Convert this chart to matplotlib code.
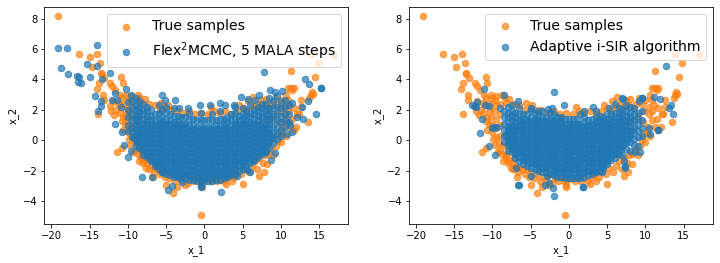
# recreated scatter comparison
import numpy as np
import matplotlib
matplotlib.use("Agg")
import matplotlib.pyplot as plt

# true samples, outer points
true_tail = [(-19.1,8.15),(-16.4,5.7),(-14.0,5.65),(-15.0,5.45),(-13.65,5.1),(-14.7,4.8),(-13.5,4.45),(-13.45,4.38),
    (-13.1,4.1),(-10.9,4.15),(-12.3,3.8),(-13.8,3.8),(-10.65,3.8),(-12.05,3.55),(-14.05,3.35),(-11.65,3.3),(-13.25,3.0),
    (-13.15,2.65),(-13.9,1.7),(-11.1,3.0),(-10.2,3.0),(-10.9,2.75),(-10.0,2.75),(-9.65,2.65),(-11.3,2.45),(-12.4,2.25),
    (-12.2,1.9),(-11.8,1.65),(-11.1,1.8),(-10.65,1.55),(-10.8,1.25),(-10.65,0.7),(-10.0,0.55),(-11.4,-0.8),(-10.8,-0.5),
    (-9.1,-0.2),(-9.0,-0.65),(-8.25,-1.2),(-8.0,-1.5),(-7.6,-1.85),(-6.75,-2.4),(-6.5,-1.75),(-5.0,-2.95),(-3.55,-3.05),
    (-4.15,-3.5),(-2.6,-2.95),(-0.35,-3.05),(-0.35,-2.95),(2.8,-2.9),(3.55,-2.7),(5.0,-2.9),(7.15,-2.35),(7.75,-2.1),(8.2,-1.6),
    (-0.5,-4.9),(17.0,5.6),(14.8,5.1),(13.9,5.7),(11.3,4.55),(14.4,4.15),(10.9,3.45),(11.3,3.45),(11.7,3.45),(11.5,3.3),
    (14.0,3.2),(13.9,3.0),(14.15,3.05),(13.7,2.75),(13.5,1.2),(12.6,2.65),(12.6,2.2),(12.1,1.75),(12.3,1.75),(10.9,2.65),
    (10.65,3.0),(10.0,2.65),(11.7,0.65),(7.4,2.65),(8.0,2.7),(6.3,2.85),(5.65,2.55),(4.55,2.3),(0.9,2.2),(-5.65,2.45),
    (-4.8,2.3),(-8.25,2.45),(-8.7,3.0)]
# true samples, band around the dense middle
true_band = [(-12.0,2.6),(-11.5,2.0),(-11.0,2.3),(-10.5,2.4),(-10.3,2.0),(-10.2,1.5),(-10.4,1.1),(-10.0,1.0),(-9.8,1.9),(-9.6,2.3),
    (-9.6,1.4),(-9.5,0.8),(-9.5,0.2),(-9.9,0.1),(-9.7,-0.3),(-9.3,-0.8),(-9.5,2.9),(-9.0,2.4),(-9.0,1.7),(-9.0,1.0),(-9.0,0.3),
    (-8.7,-0.9),(-8.6,-0.3),(-8.6,-1.4),(-8.2,-1.0),(-8.0,-0.5),(-7.8,-1.3),(-7.5,-1.5),(-7.3,-1.9),(-7.2,-1.2),(-6.9,-1.7),
    (-6.6,-2.1),(-6.2,-1.9),(-5.8,-2.2),(-5.5,-1.9),(-5.2,-2.4),(-5.0,-2.1),(-4.6,-2.5),(-4.2,-2.2),(-3.8,-2.7),(-3.4,-2.4),
    (-3.0,-2.6),(-2.7,-2.3),(-2.2,-2.8),(-1.8,-2.5),(-1.4,-2.7),(-1.0,-2.4),(-0.6,-2.7),(-0.2,-2.6),(0.3,-2.5),(0.8,-2.7),
    (1.2,-2.4),(1.6,-2.7),(2.0,-2.5),(2.5,-2.7),(3.0,-2.4),(3.4,-2.2),(3.9,-2.4),(4.3,-2.0),(4.8,-2.2),(5.3,-1.8),(5.8,-2.1),
    (6.2,-1.7),(6.6,-1.4),(6.9,-1.9),(7.2,-1.2),(7.6,-1.5),(7.9,-1.0),(8.3,-0.9),(8.7,-0.6),(9.0,-1.0),(9.3,-0.4),(9.6,0.0),
    (9.7,0.5),(10.0,-0.1),(10.2,0.4),(10.3,0.9),(10.6,0.3),(10.8,1.3),(10.5,1.7),(10.9,1.9),(11.1,2.3),(10.4,2.2),(11.2,0.9),
    (9.7,1.2),(9.8,1.9),(9.5,2.4),(9.2,2.8),(8.8,2.4),(9.0,1.6),(8.5,2.1),(8.5,1.3),(7.9,2.3),(7.2,2.2),(6.7,2.4),(6.2,2.2),
    (5.5,2.0),(5.0,2.1),(4.2,1.9),(3.5,1.7),(2.7,1.9),(2.0,1.8),(1.3,1.9),(0.5,1.7),(-0.4,1.8),(-1.2,1.7),(-2.0,1.9),(-2.8,1.8),
    (-3.6,2.0),(-4.3,2.0),(-5.0,2.1),(-5.8,2.0),(-6.5,2.3),(-7.2,2.4),(-7.8,2.7),(-8.4,2.8),(12.0,0.9),(11.5,1.4),(11.7,2.1)]

# Flex2MCMC samples, outer points
flex_tail = [(-19.1,6.1),(-17.9,6.1),(-18.7,4.75),(-17.8,4.35),(-16.7,4.2),(-16.35,4.15),(-16.5,3.85),(-16.1,3.75),(-15.4,5.05),
    (-14.9,4.15),(-14.0,6.25),(-14.0,4.9),(-13.35,4.0),(-14.25,2.9),(-13.5,2.6),(-13.85,1.95),(-13.55,2.25),(-12.4,4.4),
    (-11.7,3.1),(-12.05,2.65),(-11.65,1.1),(-11.4,2.65),(-10.9,2.2),(-10.3,3.4),(-9.55,3.0),(-9.95,-1.1),(-9.65,-0.7),
    (-10.5,-0.3),(-10.8,0.55),(-8.15,-2.4),(-6.85,-2.4),(-5.6,3.0),(-5.1,2.65),(-3.8,2.65),(-3.35,2.15),(-2.1,2.15),
    (-0.55,2.35),(0.7,2.35),(2.05,2.45),(2.75,2.3),(4.8,2.85),(3.85,2.3),(5.7,2.7),(6.55,2.65),(7.1,3.0),(7.8,4.5),(8.6,3.3),
    (9.25,3.2),(10.15,3.25),(10.55,2.65),(11.45,2.45),(12.1,1.55),(12.95,1.4),(13.2,4.0),(13.7,3.7),(15.2,3.45),(15.3,3.45),
    (14.55,1.75),(13.5,2.55),(12.75,2.2),(10.8,0.4),(11.45,0.55),(11.2,1.0),(9.2,-0.85),(8.75,-1.3),(7.95,-0.75),(6.0,-2.1),
    (5.55,-1.95),(4.25,-2.35),(2.2,-3.4),(-0.45,-3.0),(-0.45,-3.05),(-4.3,-3.0),(-4.75,-3.25),(-2.9,-2.75),(-5.5,-2.1),(-4.0,-2.2)]
# Flex2MCMC samples, dense middle: one x for each list of y values
flex_col_x = [-10.0,-9.5,-9.0,-8.5,-8.0,-7.5,-7.0,-6.5,-6.0,-5.5,-5.0,-4.5,-4.0,-3.5,-3.0,-2.5,-2.0,-1.5,-1.0,-0.5,0.0,0.5,1.0,1.5,
    2.0,2.5,3.0,3.5,4.0,4.5,5.0,5.5,6.0,6.5,7.0,7.5,8.0,8.5,9.0,9.5,10.0,10.5,11.0]
flex_col_y = [[0.6,1.0,1.5,2.0,2.5],[0.2,0.6,0.9,1.3,1.7,2.1,2.6],[-0.4,0.0,0.4,0.7,1.0,1.3,1.6,2.0,2.3,2.8],
    [-0.5,-0.2,0.1,0.4,0.7,1.0,1.3,1.6,1.9,2.2,2.6],[-1.0,-0.7,-0.4,-0.1,0.2,0.5,0.8,1.1,1.4,1.7,2.0,2.4],
    [-1.1,-0.8,-0.5,-0.2,0.1,0.4,0.7,1.0,1.3,1.6,1.9,2.2],[-1.4,-1.1,-0.8,-0.5,-0.2,0.1,0.4,0.7,1.0,1.3,1.6,2.0],
    [-1.7,-1.4,-1.1,-0.8,-0.5,-0.2,0.1,0.4,0.7,1.0,1.3,1.7],[-1.9,-1.6,-1.3,-1.0,-0.7,-0.4,-0.1,0.2,0.5,0.8,1.1,1.4,1.8,2.3],
    [-2.1,-1.8,-1.5,-1.2,-0.9,-0.6,-0.3,0.0,0.3,0.6,0.9,1.2,1.5,2.0],[-2.2,-1.9,-1.6,-1.3,-1.0,-0.7,-0.4,-0.1,0.2,0.5,0.8,1.1,1.4,1.8,2.2],
    [-2.3,-2.0,-1.7,-1.4,-1.1,-0.8,-0.5,-0.2,0.1,0.4,0.7,1.0,1.3,1.7],[-2.4,-2.1,-1.8,-1.5,-1.2,-0.9,-0.6,-0.3,0.0,0.3,0.6,0.9,1.2,1.6,2.1],
    [-2.4,-2.1,-1.8,-1.5,-1.2,-0.9,-0.6,-0.3,0.0,0.3,0.6,0.9,1.2,1.6],[-2.5,-2.2,-1.9,-1.6,-1.3,-1.0,-0.7,-0.4,-0.1,0.2,0.5,0.8,1.1,1.5],
    [-2.5,-2.2,-1.9,-1.6,-1.3,-1.0,-0.7,-0.4,-0.1,0.2,0.5,0.8,1.1,1.5],[-2.6,-2.3,-2.0,-1.7,-1.4,-1.1,-0.8,-0.5,-0.2,0.1,0.4,0.7,1.0,1.4,1.8],
    [-2.6,-2.3,-2.0,-1.7,-1.4,-1.1,-0.8,-0.5,-0.2,0.1,0.4,0.7,1.0,1.4],[-2.7,-2.4,-2.1,-1.8,-1.5,-1.2,-0.9,-0.6,-0.3,0.0,0.3,0.6,0.9,1.3],
    [-2.7,-2.4,-2.1,-1.8,-1.5,-1.2,-0.9,-0.6,-0.3,0.0,0.3,0.6,0.9,1.3,1.8],[-2.7,-2.4,-2.1,-1.8,-1.5,-1.2,-0.9,-0.6,-0.3,0.0,0.3,0.6,0.9,1.3],
    [-2.7,-2.4,-2.1,-1.8,-1.5,-1.2,-0.9,-0.6,-0.3,0.0,0.3,0.6,0.9,1.3],[-2.7,-2.4,-2.1,-1.8,-1.5,-1.2,-0.9,-0.6,-0.3,0.0,0.3,0.6,0.9,1.3,1.7],
    [-2.6,-2.3,-2.0,-1.7,-1.4,-1.1,-0.8,-0.5,-0.2,0.1,0.4,0.7,1.0,1.3],[-2.6,-2.3,-2.0,-1.7,-1.4,-1.1,-0.8,-0.5,-0.2,0.1,0.4,0.7,1.0,1.4,1.9],
    [-2.5,-2.2,-1.9,-1.6,-1.3,-1.0,-0.7,-0.4,-0.1,0.2,0.5,0.8,1.1,1.4],[-2.4,-2.1,-1.8,-1.5,-1.2,-0.9,-0.6,-0.3,0.0,0.3,0.6,0.9,1.2,1.5],
    [-2.3,-2.0,-1.7,-1.4,-1.1,-0.8,-0.5,-0.2,0.1,0.4,0.7,1.0,1.3,1.7],[-2.2,-1.9,-1.6,-1.3,-1.0,-0.7,-0.4,-0.1,0.2,0.5,0.8,1.1,1.4,1.8,2.2],
    [-2.0,-1.7,-1.4,-1.1,-0.8,-0.5,-0.2,0.1,0.4,0.7,1.0,1.3,1.6],[-1.9,-1.6,-1.3,-1.0,-0.7,-0.4,-0.1,0.2,0.5,0.8,1.1,1.4,1.7,2.1],
    [-1.7,-1.4,-1.1,-0.8,-0.5,-0.2,0.1,0.4,0.7,1.0,1.3,1.6,1.9],[-1.5,-1.2,-0.9,-0.6,-0.3,0.0,0.3,0.6,0.9,1.2,1.5,1.8,2.3],
    [-1.3,-1.0,-0.7,-0.4,-0.1,0.2,0.5,0.8,1.1,1.4,1.7,2.0],[-1.1,-0.8,-0.5,-0.2,0.1,0.4,0.7,1.0,1.3,1.6,1.9,2.2],
    [-0.9,-0.6,-0.3,0.0,0.3,0.6,0.9,1.2,1.5,1.8,2.1,2.4],[-0.8,-0.4,-0.1,0.2,0.5,0.8,1.1,1.4,1.7,2.0,2.4],
    [-0.5,-0.1,0.2,0.5,0.8,1.1,1.4,1.7,2.1,2.8],[-0.2,0.2,0.5,0.9,1.3,1.7,2.1,2.6],[0.1,0.5,0.9,1.3,1.7,2.2,2.9],
    [0.3,0.7,1.2,1.6,2.1,2.5],[0.9,1.3,1.7,2.2],[1.2,1.7,2.3]]
# Flex2MCMC samples, more of the dense middle: one y for each list of x values
flex_row_y = [-2.25,-1.95,-1.65,-1.35,-1.05,-0.75,-0.45,-0.15,0.15,0.45,0.75,1.05]
flex_row_x = [[-3.8,-2.8,-1.7,-0.8,0.3,1.2,2.3,3.2],
    [-5.2,-4.3,-3.2,-2.3,-1.2,-0.2,0.7,1.8,2.8,3.7],
    [-6.2,-5.3,-4.2,-3.3,-2.2,-1.3,-0.2,0.8,1.7,2.7,3.8,4.7],
    [-6.8,-5.7,-4.8,-3.7,-2.8,-1.7,-0.8,0.3,1.2,2.3,3.2,4.3,5.2,6.3],
    [-7.2,-6.3,-5.2,-4.3,-3.2,-2.3,-1.2,-0.3,0.8,1.7,2.8,3.7,4.8,5.7,6.8],
    [-7.8,-6.7,-5.8,-4.7,-3.8,-2.7,-1.8,-0.7,0.2,1.3,2.2,3.3,4.2,5.3,6.2,7.3],
    [-8.2,-7.3,-6.2,-5.3,-4.2,-3.3,-2.2,-1.3,-0.2,0.7,1.8,2.7,3.8,4.7,5.8,6.7,7.8],
    [-8.8,-7.7,-6.8,-5.7,-4.8,-3.7,-2.8,-1.7,-0.8,0.3,1.2,2.3,3.2,4.3,5.2,6.3,7.2,8.3],
    [-9.2,-8.3,-7.2,-6.3,-5.2,-4.3,-3.2,-2.3,-1.2,-0.3,0.8,1.7,2.8,3.7,4.8,5.7,6.8,7.7,8.8],
    [-8.8,-7.7,-6.8,-5.7,-4.8,-3.7,-2.8,-1.7,-0.8,0.3,1.2,2.3,3.2,4.3,5.2,6.3,7.2,8.3],
    [-8.2,-7.3,-6.2,-5.3,-4.2,-3.3,-2.2,-1.3,-0.2,0.7,1.8,2.7,3.8,4.7,5.8,6.7,7.8],
    [-7.7,-6.8,-5.7,-4.8,-3.7,-2.8,4.2,5.3,6.2,7.3]]

# adaptive i-SIR samples, outer points
isir_tail = [(-12.3,2.25),(-12.05,2.5),(-12.1,2.2),(-12.7,2.35),(-11.1,3.35),(-11.4,1.4),(-11.6,0.45),(-10.4,-0.4),(-9.7,-1.0),
    (-10.95,2.3),(-10.5,2.25),(-10.1,0.8),(-9.8,0.85),(-9.4,0.9),(-8.5,2.95),(-9.0,2.1),(-6.6,2.6),(-6.55,-2.95),(-6.6,-2.95),
    (-6.9,-1.8),(-5.0,-2.35),(-3.1,-2.95),(-2.9,-2.35),(-2.6,-2.85),(-2.1,-3.15),(-1.9,-3.7),(-5.0,2.15),(-4.1,1.9),(-2.7,2.05),
    (-2.2,2.15),(-1.9,3.15),(-0.6,2.35),(1.9,-3.05),(1.85,-3.05),(2.0,1.9),(3.2,2.2),(3.6,1.9),(5.2,2.15),(6.0,2.4),(6.6,2.1),
    (7.0,2.75),(7.1,2.7),(7.4,2.3),(9.2,2.6),(9.6,2.8),(9.55,2.75),(11.1,2.85),(11.9,2.7),(12.7,4.9),(13.1,2.1),(13.3,2.35),
    (13.6,1.7),(10.5,0.8),(10.6,0.4),(11.7,0.7),(11.6,0.65),(9.3,-0.8),(8.7,-0.8),(7.2,-1.4),(7.3,-1.8),(7.3,-1.7),(4.3,-2.1)]
# adaptive i-SIR samples, dense middle: one x for each list of y values
isir_col_x = [-8.5,-8.0,-7.5,-7.0,-6.5,-6.0,-5.5,-5.0,-4.5,-4.0,-3.5,-3.0,-2.5,-2.0,-1.5,-1.0,-0.5,0.0,0.5,1.0,1.5,2.0,2.5,3.0,3.5,
    4.0,4.5,5.0,5.5,6.0,6.5,7.0,7.5,8.0,8.5,9.0,9.5]
isir_col_y = [[-0.1,0.3,0.7,1.1,1.5,1.9],[-0.7,-0.3,0.0,0.3,0.6,0.9,1.2,1.5,1.8,2.2],[-0.8,-0.5,-0.2,0.1,0.4,0.7,1.0,1.3,1.6,1.9,2.3],
    [-1.2,-0.9,-0.6,-0.3,0.0,0.3,0.6,0.9,1.2,1.5,1.8],[-1.4,-1.1,-0.8,-0.5,-0.2,0.1,0.4,0.7,1.0,1.3,1.7,2.1],
    [-1.6,-1.3,-1.0,-0.7,-0.4,-0.1,0.2,0.5,0.8,1.1,1.4,1.7],[-1.7,-1.4,-1.1,-0.8,-0.5,-0.2,0.1,0.4,0.7,1.0,1.3,1.7],
    [-1.8,-1.5,-1.2,-0.9,-0.6,-0.3,0.0,0.3,0.6,0.9,1.2,1.5,2.0],[-1.9,-1.6,-1.3,-1.0,-0.7,-0.4,-0.1,0.2,0.5,0.8,1.1,1.4,1.8],
    [-2.0,-1.7,-1.4,-1.1,-0.8,-0.5,-0.2,0.1,0.4,0.7,1.0,1.3,1.6],[-2.1,-1.8,-1.5,-1.2,-0.9,-0.6,-0.3,0.0,0.3,0.6,0.9,1.2,1.5,1.9],
    [-2.1,-1.8,-1.5,-1.2,-0.9,-0.6,-0.3,0.0,0.3,0.6,0.9,1.2,1.5],[-2.2,-1.9,-1.6,-1.3,-1.0,-0.7,-0.4,-0.1,0.2,0.5,0.8,1.1,1.4,1.8],
    [-2.3,-2.0,-1.7,-1.4,-1.1,-0.8,-0.5,-0.2,0.1,0.4,0.7,1.0,1.3,1.7],[-2.4,-2.1,-1.8,-1.5,-1.2,-0.9,-0.6,-0.3,0.0,0.3,0.6,0.9,1.2,1.5],
    [-2.4,-2.1,-1.8,-1.5,-1.2,-0.9,-0.6,-0.3,0.0,0.3,0.6,0.9,1.2,1.5],[-2.5,-2.2,-1.9,-1.6,-1.3,-1.0,-0.7,-0.4,-0.1,0.2,0.5,0.8,1.1,1.4],
    [-2.5,-2.2,-1.9,-1.6,-1.3,-1.0,-0.7,-0.4,-0.1,0.2,0.5,0.8,1.1,1.4],[-2.5,-2.2,-1.9,-1.6,-1.3,-1.0,-0.7,-0.4,-0.1,0.2,0.5,0.8,1.1,1.4],
    [-2.5,-2.2,-1.9,-1.6,-1.3,-1.0,-0.7,-0.4,-0.1,0.2,0.5,0.8,1.1,1.4],[-2.5,-2.2,-1.9,-1.6,-1.3,-1.0,-0.7,-0.4,-0.1,0.2,0.5,0.8,1.1,1.7],
    [-2.4,-2.1,-1.8,-1.5,-1.2,-0.9,-0.6,-0.3,0.0,0.3,0.6,0.9,1.2,1.5],[-2.3,-2.0,-1.7,-1.4,-1.1,-0.8,-0.5,-0.2,0.1,0.4,0.7,1.0,1.3],
    [-2.2,-1.9,-1.6,-1.3,-1.0,-0.7,-0.4,-0.1,0.2,0.5,0.8,1.1,1.4],[-2.1,-1.8,-1.5,-1.2,-0.9,-0.6,-0.3,0.0,0.3,0.6,0.9,1.2,1.5],
    [-2.0,-1.7,-1.4,-1.1,-0.8,-0.5,-0.2,0.1,0.4,0.7,1.0,1.3,1.6],[-1.8,-1.5,-1.2,-0.9,-0.6,-0.3,0.0,0.3,0.6,0.9,1.2,1.5],
    [-1.6,-1.3,-1.0,-0.7,-0.4,-0.1,0.2,0.5,0.8,1.1,1.4,1.7],[-1.3,-1.0,-0.7,-0.4,-0.1,0.2,0.5,0.8,1.1,1.4,1.7],
    [-1.2,-0.9,-0.6,-0.3,0.0,0.3,0.6,0.9,1.2,1.5,1.8],[-0.9,-0.6,-0.3,0.0,0.3,0.6,0.9,1.2,1.5,1.8],
    [-1.0,-0.4,-0.1,0.2,0.5,0.8,1.1,1.4,1.7,2.0],[-0.6,-0.2,0.1,0.4,0.7,1.0,1.3,1.6,1.9],[-0.7,-0.1,0.3,0.6,0.9,1.2,1.5,1.8,2.2],
    [-0.3,0.1,0.5,0.9,1.3,1.7,2.1],[-0.4,0.2,0.6,1.0,1.4,1.8],[0.3,0.8,1.3,1.9]]
# adaptive i-SIR samples, more of the dense middle: one y for each list of x values
isir_row_y = [-2.05,-1.75,-1.45,-1.15,-0.85,-0.55,-0.25,0.05,0.35,0.65,0.95,1.25]
isir_row_x = [[-1.8,-0.7,0.2,1.3,2.2,3.3],
    [-3.7,-2.8,-1.7,-0.8,0.3,1.2,2.3,3.2,4.3],
    [-5.2,-4.3,-3.2,-2.3,-1.2,-0.3,0.8,1.7,2.8,3.7,4.8],
    [-5.8,-4.7,-3.8,-2.7,-1.8,-0.7,0.2,1.3,2.2,3.3,4.2,5.3],
    [-6.7,-5.8,-4.7,-3.8,-2.7,-1.8,-0.7,0.2,1.3,2.2,3.3,4.2,5.3,6.2],
    [-7.2,-6.3,-5.2,-4.3,-3.2,-2.3,-1.2,-0.3,0.8,1.7,2.8,3.7,4.8,5.7,6.8],
    [-7.7,-6.8,-5.7,-4.8,-3.7,-2.8,-1.7,-0.8,0.3,1.2,2.3,3.2,4.3,5.2,6.3,7.2],
    [-7.8,-7.2,-6.3,-5.2,-4.3,-3.2,-2.3,-1.2,-0.3,0.8,1.7,2.8,3.7,4.8,5.7,6.8,7.7],
    [-8.2,-7.3,-6.2,-5.3,-4.2,-3.3,-2.2,-1.3,-0.2,0.7,1.8,2.7,3.8,4.7,5.8,6.7,7.8],
    [-7.8,-6.7,-5.8,-4.7,-3.8,-2.7,-1.8,-0.7,0.2,1.3,2.2,3.3,4.2,5.3,6.2,7.3,8.2],
    [-7.7,-6.8,-5.7,-4.8,-3.7,-2.8,-1.7,-0.8,0.3,1.2,2.3,3.2,4.3,5.2,6.3,7.2],
    [-6.3,-5.2,-4.3,-3.2,-2.3,-1.2,3.8,4.7,5.8,6.7,7.8]]


def to_xy(tail, col_x, col_y, row_y, row_x):
    # join the outer points, the columns and the rows of the dense middle
    x = [p[0] for p in tail]
    y = [p[1] for p in tail]
    for cx, cy in zip(col_x, col_y):
        x += [cx] * len(cy)
        y += cy
    for ry, rx in zip(row_y, row_x):
        x += rx
        y += [ry] * len(rx)
    return np.array(x), np.array(y)


true_pts = np.array(true_tail + true_band)
flex_x, flex_y = to_xy(flex_tail, flex_col_x, flex_col_y, flex_row_y, flex_row_x)
isir_x, isir_y = to_xy(isir_tail, isir_col_x, isir_col_y, isir_row_y, isir_row_x)

fig, axes = plt.subplots(1, 2, figsize=(10, 263 / 72))
fig.subplots_adjust(left=0.0618, right=0.990, top=0.975, bottom=0.1464, wspace=0.2)

axes[0].scatter(true_pts[:, 0], true_pts[:, 1], s=42, alpha=0.7, label="True samples", color="C1")
axes[0].scatter(flex_x, flex_y, s=42, alpha=0.7, label="Flex$^2$MCMC, 5 MALA steps", color="C0")
axes[1].scatter(true_pts[:, 0], true_pts[:, 1], s=42, alpha=0.7, label="True samples", color="C1")
axes[1].scatter(isir_x, isir_y, s=42, alpha=0.7, label="Adaptive i-SIR algorithm", color="C0")

for ax in axes:
    ax.set_xlabel("x_1")
    ax.set_ylabel("x_2")
    ax.legend(loc="upper right", fontsize=14)

fig.savefig("out.png", dpi=72)
